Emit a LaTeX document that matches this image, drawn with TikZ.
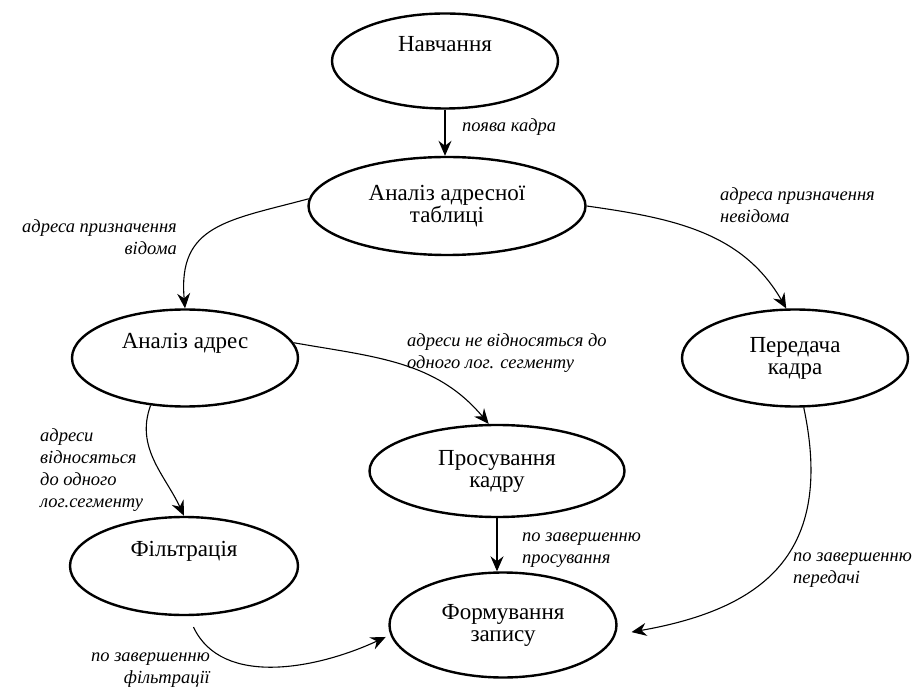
\documentclass[tikz,border=0pt]{standalone}
\usepackage{fontspec}
\setmainfont{Liberation Serif}
\usetikzlibrary{shapes.geometric,arrows.meta}

\begin{document}
\begin{tikzpicture}[x=1pt,y=1pt,
  state/.style={ellipse,draw,line width=2.4pt,inner sep=0pt,align=center,font=\fontsize{23}{22}\selectfont},
  single/.style={text depth=34pt},
  trans/.style={line width=1.1pt,-{Stealth[length=15pt,width=13pt,inset=5pt]}},
  cond/.style={inner sep=0pt,font=\fontsize{18.5}{22}\selectfont\itshape}]
\useasboundingbox (0,0) rectangle (920,686);

\node[state,single,minimum width=226,minimum height=95] (nav) at (445,625) {Навчання};
\node[state,minimum width=277,minimum height=98] (ant) at (447,480) {Аналіз адресної\\таблиці};
\node[state,single,minimum width=226,minimum height=97] (aa) at (185,328) {Аналіз адрес};
\node[state,minimum width=226,minimum height=97] (ped) at (795,328) {Передача\\кадра};
\node[state,minimum width=255,minimum height=92] (pro) at (497,215) {Просування\\кадру};
\node[state,single,minimum width=228,minimum height=98] (fil) at (184,120) {Фільтрація};
\node[state,minimum width=227,minimum height=105] (frm) at (503,61) {Формування\\запису};

\node[cond,anchor=base west] (lnew) at (462,554) {поява кадра};
\node[cond,anchor=base east,align=right] (lknown) at (177,431) {адреса призначення\\відома};
\node[cond,anchor=base west,align=left] (lunknown) at (720,463) {адреса призначення\\невідома};
\node[cond,anchor=base west,align=left] (lfwd) at (407,317) {адреси не відносяться до\\одного лог. сегменту};
\node[cond,anchor=base west,align=left] (lsame) at (40,179) {адреси\\відносяться\\до одного\\лог.сегменту};
\node[cond,anchor=base west,align=left] (lpro) at (522,123) {по завершенню\\просування};
\node[cond,anchor=base west,align=left] (lped) at (793,103) {по завершенню\\передачі};
\node[cond,anchor=base east,align=right] (lfil) at (210,3) {по завершенню\\фільтрації};

\draw[trans] (nav.south) -- (nav.south |- ant.north);
\draw[trans] (ant.177) to[out=195,in=95,looseness=1.3] (aa.north);
\draw[trans] (ant.east) to[out=-8,in=120] (ped.100);
\draw[trans] (aa.8) to[out=-10,in=130] (pro.100);
\draw[trans] (aa.234) to[out=-110,in=115] (fil.north);
\draw[trans] (pro.south) -- (pro.south |- frm.north);
\draw[trans,shorten >=16pt] (ped.-80) to[out=-78,in=10,looseness=1.3] (frm.-5);
\draw[trans,shorten <=12pt,shorten >=5pt] (fil.-85) to[out=-65,in=205] (frm.185);
\end{tikzpicture}
\end{document}
